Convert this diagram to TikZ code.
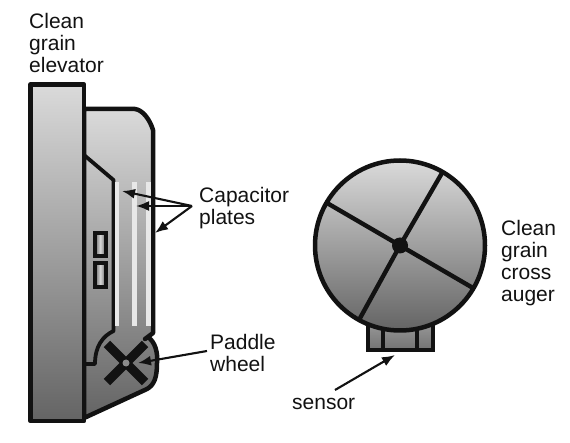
\documentclass[tikz,border=0pt]{standalone}
\usepackage{fontspec}
\setmainfont{Liberation Sans}
\usetikzlibrary{arrows.meta,positioning,calc}
\definecolor{auglight}{RGB}{218,218,218}
\definecolor{augdark}{RGB}{100,100,100}
\definecolor{augink}{RGB}{18,18,18}
\definecolor{augplate}{RGB}{232,232,232}

\begin{document}
\begin{tikzpicture}[x=1pt,y=-1pt,
  label/.style={font=\fontsize{21}{22}\selectfont,align=left,anchor=north west,inner sep=0pt,text=augink},
  body/.style={draw=augink,line width=4.5pt,top color=auglight,bottom color=augdark,line join=round},
  wall/.style={draw=augink,line width=3.8pt,line join=round},
  spoke/.style={draw=augink,line width=4.4pt},
  plate/.style={fill=augplate,draw=none},
  slot/.style={draw=augink,line width=4pt,left color=black!60,right color=black!60,middle color=black!15},
  pointer/.style={-{Latex[length=13pt,width=10pt]},draw=augink,line width=2.1pt}]

\path[use as bounding box,fill=white] (0,0) rectangle (570,443);

\draw[body] (84,109)--(135,109) .. controls (143,110) and (150,120) .. (153,130)--(153,333)--(145,339)--(148,337)
  .. controls (155,342) and (158,352) .. (157,363) .. controls (157,378) and (154,385) .. (147,389)--(84,418)--cycle;
\draw[body] (30.5,84.5) rectangle (84,421);
\draw[wall] (84,155)--(113.5,180)--(113.5,331) .. controls (103,336) and (95,346) .. (95,364)--(84,364);

\foreach \px in {117,134.5,148.5}
  \fill[plate] (\px-2.3,182) rectangle (\px+2.3,326);
\draw[slot] (95,233) rectangle (105.5,256);
\draw[slot] (95,263) rectangle (105.5,287);

\coordinate (wheelhub) at (126,363);
\foreach \aa in {45,135}
  \draw[draw=augink,line width=9pt] ($(wheelhub)+(\aa:27pt)$)--($(wheelhub)+(\aa+180:27pt)$);
\fill[black!45] (wheelhub) circle (3.5pt);

\draw[draw=augink,line width=4pt,top color=black!40,bottom color=black!55] (368,322) rectangle (433,350);
\draw[spoke] (383,325)--(383,350);
\draw[spoke] (417,325)--(417,350);
\coordinate (augerhub) at (400,245.5);
\draw[body] (augerhub) circle (85pt);
\foreach \tipx/\tipy in {442/173,327/203,473/288,359/320}
  \draw[spoke] (augerhub)--(\tipx,\tipy);
\fill[augink] (augerhub) circle (8pt);

\node[label] (elevator) at (29,13) {Clean\\grain\\elevator};
\node[label] (capacitor) at (199,187) {Capacitor\\plates};
\node[label] (paddle) at (210,334) {Paddle\\wheel};
\node[label] (auger) at (501,220) {Clean\\grain\\cross\\auger};
\node[label] (sensor) at (292,398) {sensor};

\coordinate (capfork) at (192,206);
\coordinate (plateone) at (122,191);
\coordinate (platetwo) at (136,206);
\coordinate (platethree) at (155,233);
\coordinate (paddlestart) at (207,351);
\coordinate (paddletip) at (138,363);
\coordinate (sensorstart) at (335,390);
\coordinate (sensortip) at (395,355);
\draw[pointer] (capfork)--(plateone);
\draw[pointer] (capfork)--(platetwo);
\draw[pointer] (capfork)--(platethree);
\draw[pointer] (paddlestart)--(paddletip);
\draw[pointer] (sensorstart)--(sensortip);

\end{tikzpicture}
\end{document}
